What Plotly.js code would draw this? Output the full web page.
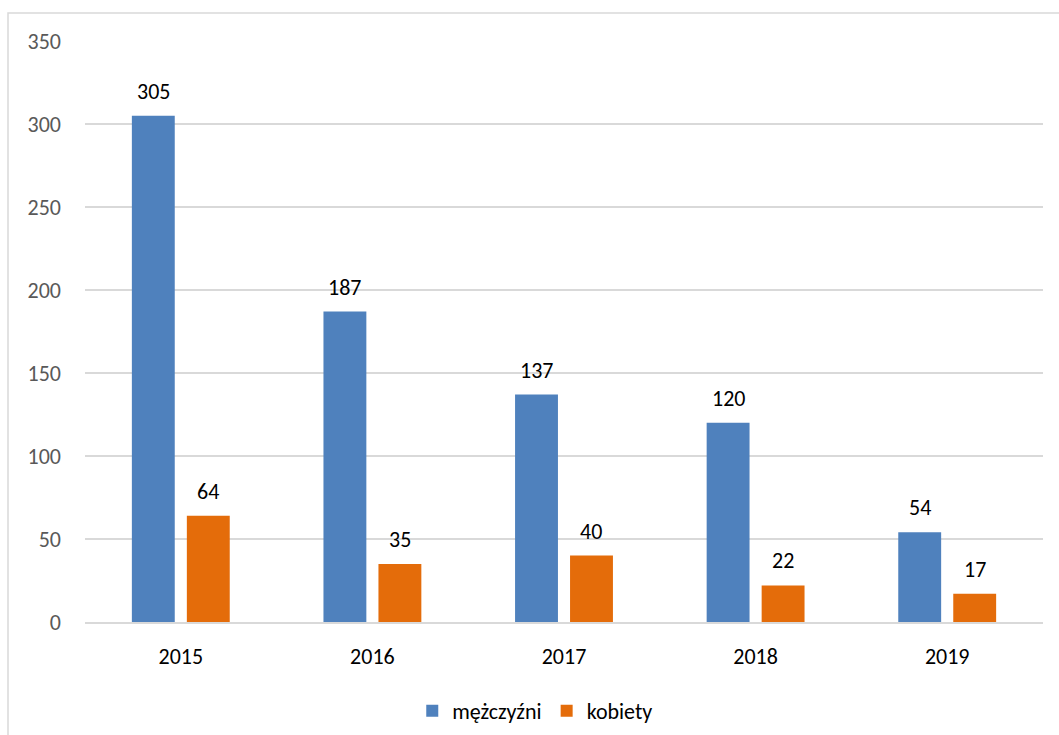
<!DOCTYPE html>
<html><head><meta charset="utf-8">
<script src="https://cdn.plot.ly/plotly-3.0.1.min.js"></script>
<style>html,body{margin:0;padding:0;background:#fff}#chart{width:1059px;height:735px}</style>
</head><body><div id="chart"></div>
<script>
const years = ['2015','2016','2017','2018','2019'];
const men = [305, 187, 137, 120, 54];
const women = [64, 35, 40, 22, 17];
const seriesNames = ['mężczyźni', 'kobiety'];

const font = "Carlito, 'Open Sans', 'Noto Sans', sans-serif";
const FS = 22;
const traces = [
  {type:'bar', x: years, y: men, name: seriesNames[0], marker:{color:'#4f81bd'}, hoverinfo:'x+y'},
  {type:'bar', x: years, y: women, name: seriesNames[1], marker:{color:'#e46c0a'}, hoverinfo:'x+y'}
];
const L=85, R=16, T=41, B=113, W=1059, H=735;
const pw = W-L-R, ph = H-T-B;
const bargap = 0.426;
const annotations = [];
[men, women].forEach((arr, si) => {
  arr.forEach((v, i) => {
    annotations.push({x: i + (si===0 ? -1 : 1)*(1-bargap)/4, y: v, xref:'x', yref:'y', text: String(v),
      showarrow:false, yanchor:'bottom', xanchor:'center', yshift:9,
      font:{family:font, size:FS, color:'#000'}});
  });
});
const layout = {
  width: W, height: H,
  margin:{l:L, r:R, t:T, b:B, pad:0, autoexpand:false},
  paper_bgcolor:'#fff', plot_bgcolor:'#fff',
  font:{family:font, size:FS, color:'#000'},
  barmode:'group', bargap:bargap, bargroupgap:0.22,
  showlegend:true,
  legend:{orientation:'h', x:0.47, xanchor:'center', y:-0.117, yanchor:'top',
    font:{family:font,size:FS,color:'#000'}, itemwidth:30, traceorder:'normal'},
  xaxis:{type:'category', categoryarray: years, range:[-0.5, years.length-0.5],
    showgrid:false, zeroline:false, showline:true, automargin:false,
    linecolor:'#d9d9d9', linewidth:1.5, ticks:'', ticklabelstandoff:14,
    tickfont:{family:font,size:FS,color:'#000'}, fixedrange:true},
  yaxis:{range:[0,350], dtick:50, tick0:0, showgrid:true, gridcolor:'#d9d9d9', gridwidth:1.5,
    zeroline:false, showline:false, ticks:'', ticklabelstandoff:23, automargin:false,
    tickfont:{family:font,size:FS,color:'#595959'}, fixedrange:true},
  annotations: annotations,
  shapes:[{type:'rect', xref:'paper', yref:'paper',
    x0:(8-L)/pw, x1:(W+10-L)/pw, y0:-(H+10-(T+ph))/ph, y1:(T+ph-13)/ph,
    line:{color:'#d9d9d9', width:1.5}, fillcolor:'rgba(0,0,0,0)', layer:'below'}]
};
Plotly.newPlot('chart', traces, layout, {displayModeBar:false, staticPlot:true});
</script></body></html>
